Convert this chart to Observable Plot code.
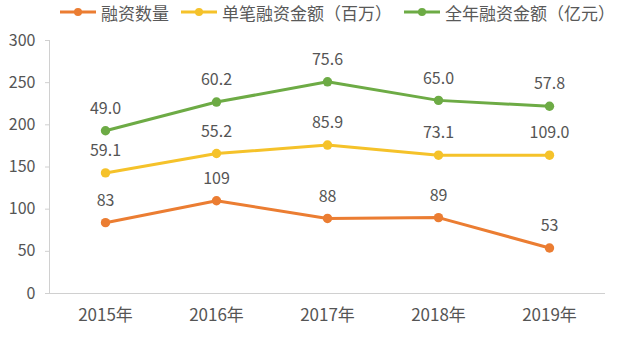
<!DOCTYPE html>
<html>
<head>
<meta charset="utf-8">
<script src="https://cdn.jsdelivr.net/npm/d3@7"></script>
<script src="https://cdn.jsdelivr.net/npm/@observablehq/plot@0.6"></script>
<style>
  html, body { margin: 0; padding: 0; background: #fff; }
  body { width: 617px; height: 339px; overflow: hidden; font-family: "Noto Sans CJK SC", "Noto Sans", sans-serif; }
  #legend { height: 24px; display: flex; align-items: center; padding-left: 60px; font-size: 17px; color: #595959; }
  .item { display: flex; align-items: center; margin-right: 12px; white-space: nowrap; }
  .item svg { margin-right: 5px; }
</style>
</head>
<body>
<div id="legend"></div>
<div id="chart"></div>
<script>
const years = ["2015年", "2016年", "2017年", "2018年", "2019年"];
const seriesNames = ["融资数量", "单笔融资金额（百万）", "全年融资金额（亿元）"];
const seriesColors = ["#EB7D32", "#F5C22A", "#6DAB45"];
// plotted positions (as drawn) and the label texts shown above them
const countValues = [84, 110, 89, 90, 54];
const countLabels = ["83", "109", "88", "89", "53"];
const avgValues = [143, 166, 176, 164, 164];
const avgLabels = ["59.1", "55.2", "85.9", "73.1", "109.0"];
const totalValues = [193, 227, 251, 229, 222];
const totalLabels = ["49.0", "60.2", "75.6", "65.0", "57.8"];
const yTicks = [0, 50, 100, 150, 200, 250, 300];

const allValues = [countValues, avgValues, totalValues];
const allLabels = [countLabels, avgLabels, totalLabels];
const rows = [];
seriesNames.forEach((s, si) => {
  years.forEach((yr, i) => rows.push({series: s, year: yr, value: allValues[si][i], label: allLabels[si][i]}));
});

// legend
const legend = document.getElementById("legend");
seriesNames.forEach((s, i) => {
  const el = document.createElement("div");
  el.className = "item";
  el.innerHTML = `<svg width="36" height="10"><line x1="0" y1="5" x2="36" y2="5" stroke="${seriesColors[i]}" stroke-width="3"/><circle cx="18" cy="5" r="4" fill="${seriesColors[i]}"/></svg><span>${s}</span>`;
  legend.appendChild(el);
});

const textColor = "#555555";
const chart = Plot.plot({
  width: 617,
  height: 315,
  marginLeft: 49,
  marginRight: 12,
  marginTop: 16,
  marginBottom: 46,
  style: {fontFamily: "'Noto Sans CJK SC', 'Noto Sans', sans-serif", color: textColor, background: "#fff"},
  x: {type: "point", domain: years, padding: 0.5, label: null},
  y: {domain: [0, 300], label: null},
  color: {domain: seriesNames, range: seriesColors},
  marks: [
    Plot.frame({anchor: "left", stroke: "#d0d0d0"}),
    Plot.ruleY([0], {stroke: "#d0d0d0"}),
    Plot.axisY({ticks: yTicks, tickSize: 4, tickPadding: 10, stroke: "#d0d0d0", fill: textColor, fontSize: 16, label: null}),
    Plot.axisX({tickSize: 0, tickPadding: 15, fill: textColor, fontSize: 17, label: null}),
    Plot.line(rows, {x: "year", y: "value", z: "series", stroke: "series", strokeWidth: 3}),
    Plot.dot(rows, {x: "year", y: "value", fill: "series", r: 4.7}),
    Plot.text(rows, {x: "year", y: "value", text: "label", dy: -22, fill: textColor, fontSize: 16})
  ]
});
document.getElementById("chart").appendChild(chart);
</script>
</body>
</html>
